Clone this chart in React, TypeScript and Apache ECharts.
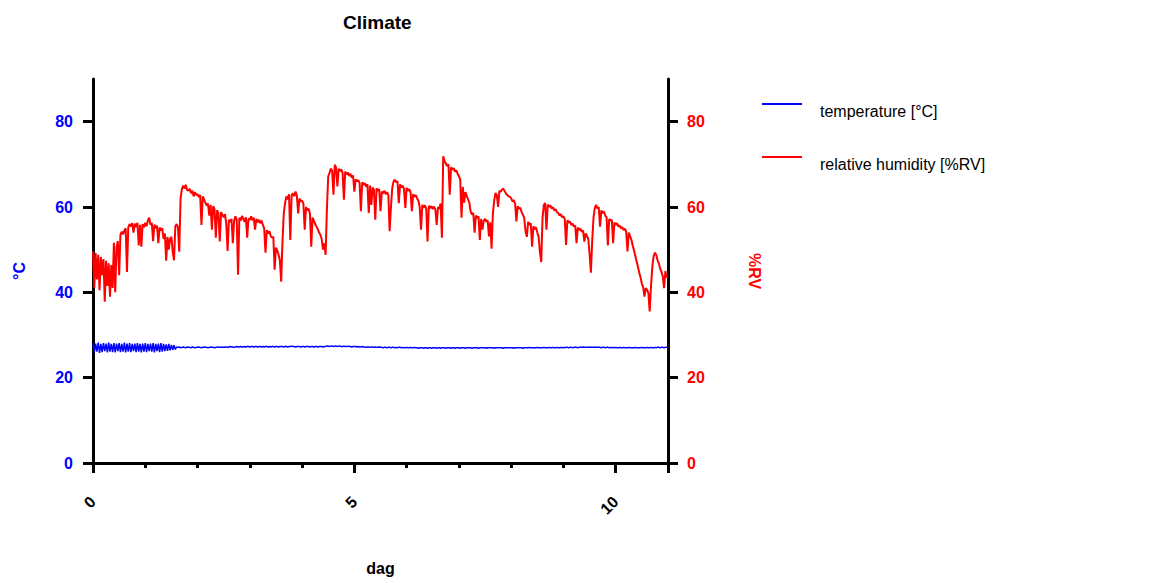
import React, { useEffect, useRef } from "react";
import * as echarts from "echarts";

// Sampling interval of the logger, in days
const sampleStep = 0.025;

// Relative humidity [%RV], 40 samples per day
const rhDay0 = [49.6, 41.0, 49.2, 43.0, 48.8, 40.5, 48.3, 44.0, 47.8, 37.8, 47.4, 41.5, 46.8, 39.0, 46.4, 41.0, 51.6, 40.0, 50.5, 52.0, 44.0, 53.5, 54.2, 53.6, 54.5, 55.0, 44.8, 55.2, 56.0, 55.4, 56.2, 54.0, 56.1, 55.3, 56.3, 51.0, 55.8, 50.7, 56.0, 55.2];
const rhDay1 = [56.3, 55.5, 56.8, 57.5, 55.8, 56.3, 52.0, 55.9, 55.0, 55.6, 51.5, 55.2, 54.5, 55.0, 52.5, 53.8, 47.4, 53.0, 50.0, 52.6, 53.0, 49.5, 47.5, 55.5, 56.0, 55.2, 49.5, 62.0, 64.2, 65.0, 64.3, 65.2, 64.0, 63.8, 64.3, 63.2, 63.8, 62.5, 63.5, 62.8];
const rhDay2 = [63.0, 62.3, 62.8, 55.8, 62.5, 61.8, 61.0, 60.3, 60.8, 58.0, 60.5, 54.7, 60.2, 59.5, 52.8, 59.3, 58.5, 51.9, 58.8, 58.2, 57.6, 58.3, 56.0, 49.7, 57.0, 56.5, 57.2, 51.5, 56.8, 57.8, 57.0, 44.1, 57.5, 56.8, 57.9, 57.2, 56.5, 57.6, 52.8, 57.3];
const rhDay3 = [57.0, 57.8, 56.9, 57.5, 54.7, 57.2, 56.4, 57.0, 56.2, 56.8, 55.8, 55.0, 49.3, 54.6, 53.8, 54.3, 53.2, 52.8, 53.0, 45.3, 50.5, 49.8, 48.8, 47.5, 42.5, 52.0, 58.5, 61.0, 62.5, 61.8, 63.0, 52.3, 62.8, 63.2, 62.5, 63.6, 62.6, 58.5, 62.0, 61.3];
const rhDay4 = [61.5, 60.8, 54.7, 60.0, 59.2, 59.6, 58.5, 50.7, 57.5, 56.8, 56.0, 55.4, 54.8, 54.0, 53.5, 52.5, 50.0, 51.5, 48.8, 59.6, 67.2, 68.0, 69.0, 68.5, 62.9, 69.9, 69.2, 64.8, 69.0, 68.4, 68.8, 68.0, 61.7, 68.3, 67.6, 68.1, 67.3, 67.8, 66.9, 67.4];
const rhDay5 = [63.6, 66.5, 66.0, 66.3, 65.6, 59.0, 65.8, 65.2, 65.6, 64.8, 65.3, 58.6, 65.0, 60.5, 64.6, 64.0, 57.0, 64.4, 63.8, 64.2, 59.0, 63.6, 63.2, 63.8, 63.0, 63.5, 62.8, 54.3, 60.0, 64.5, 66.0, 66.4, 65.8, 66.0, 60.9, 65.3, 64.6, 65.0, 64.2, 59.8];
const rhDay6 = [64.5, 63.8, 64.2, 63.5, 59.0, 63.0, 62.4, 62.8, 62.0, 61.5, 60.0, 54.7, 60.5, 59.8, 60.4, 59.6, 51.9, 60.3, 59.7, 60.2, 59.5, 60.1, 59.4, 55.8, 60.0, 59.6, 60.8, 52.8, 71.9, 70.8, 70.2, 69.6, 70.0, 62.9, 69.3, 68.8, 69.1, 68.3, 68.6, 67.8];
const rhDay7 = [67.2, 66.5, 57.5, 64.7, 61.0, 63.5, 62.6, 61.8, 61.0, 58.9, 58.2, 58.6, 54.0, 58.0, 57.4, 57.8, 52.3, 57.2, 54.7, 56.8, 57.2, 56.5, 56.9, 53.1, 56.4, 50.2, 58.5, 61.5, 63.3, 62.8, 60.0, 63.8, 63.6, 64.1, 64.3, 63.7, 63.2, 62.8, 62.5, 62.4];
const rhDay8 = [62.0, 61.3, 61.6, 60.8, 56.6, 60.2, 59.6, 59.8, 58.8, 58.2, 57.4, 54.3, 53.0, 56.5, 55.8, 56.2, 50.7, 55.5, 54.8, 55.2, 54.0, 53.0, 49.5, 47.1, 57.5, 60.5, 60.9, 54.7, 60.6, 60.0, 60.4, 59.6, 60.0, 59.2, 59.5, 58.8, 58.6, 58.0, 58.3, 57.6];
const rhDay9 = [57.8, 57.2, 51.1, 56.9, 56.3, 56.6, 55.8, 56.1, 55.4, 55.7, 51.5, 55.2, 54.6, 54.9, 54.2, 54.5, 51.9, 53.8, 53.2, 52.5, 49.0, 44.6, 52.0, 57.5, 59.8, 60.5, 59.6, 60.0, 55.4, 59.2, 58.6, 58.9, 58.0, 57.6, 51.0, 57.2, 56.8, 57.0, 51.5, 56.4];
const rhDay10 = [55.8, 56.2, 55.4, 55.7, 55.0, 55.3, 54.6, 54.9, 54.2, 49.6, 54.0, 53.2, 52.3, 51.0, 49.8, 48.5, 47.2, 46.0, 44.6, 43.5, 42.0, 41.2, 39.0, 41.0, 40.6, 39.8, 35.5, 41.5, 46.0, 48.5, 49.3, 48.8, 47.5, 46.8, 45.6, 44.8, 43.8, 41.0, 45.0, 43.6];
const rhEnd = [43.4];

// Temperature [°C], 40 samples per day
const tDay0 = [28.1, 25.9, 28.0, 26.1, 28.2, 25.8, 27.9, 26.0, 28.1, 26.2, 28.0, 25.9, 28.2, 26.1, 27.9, 26.0, 28.1, 25.9, 28.0, 26.2, 28.1, 26.0, 27.9, 26.1, 28.2, 25.9, 28.0, 26.1, 28.1, 26.0, 27.9, 26.2, 28.0, 26.0, 28.1, 26.1, 27.9, 25.9, 28.0, 26.1];
const tDay1 = [28.1, 26.0, 27.9, 26.2, 28.0, 26.1, 28.1, 25.9, 27.9, 26.2, 28.0, 26.0, 28.1, 26.1, 27.9, 26.2, 27.8, 26.3, 27.9, 26.4, 27.7, 26.5, 27.6, 26.6, 27.2, 27.1, 27.2, 27.0, 27.1, 27.2, 27.1, 27.0, 27.2, 27.1, 27.1, 27.0, 27.2, 27.1, 27.0, 27.1];
const tDay2 = [27.1, 27.2, 27.1, 27.0, 27.1, 27.2, 27.1, 27.1, 27.0, 27.1, 27.2, 27.1, 27.1, 27.0, 27.1, 27.2, 27.2, 27.1, 27.1, 27.2, 27.1, 27.2, 27.2, 27.1, 27.2, 27.3, 27.2, 27.2, 27.1, 27.2, 27.3, 27.2, 27.2, 27.3, 27.2, 27.2, 27.3, 27.2, 27.3, 27.3];
const tDay3 = [27.2, 27.3, 27.3, 27.2, 27.3, 27.3, 27.2, 27.3, 27.3, 27.2, 27.3, 27.2, 27.3, 27.3, 27.2, 27.3, 27.2, 27.3, 27.3, 27.2, 27.3, 27.3, 27.2, 27.3, 27.3, 27.3, 27.2, 27.3, 27.3, 27.2, 27.3, 27.3, 27.4, 27.3, 27.3, 27.2, 27.3, 27.3, 27.3, 27.2];
const tDay4 = [27.3, 27.3, 27.2, 27.3, 27.3, 27.3, 27.2, 27.3, 27.3, 27.2, 27.3, 27.3, 27.2, 27.3, 27.3, 27.3, 27.2, 27.3, 27.3, 27.4, 27.4, 27.3, 27.4, 27.4, 27.3, 27.4, 27.4, 27.3, 27.4, 27.4, 27.3, 27.3, 27.4, 27.3, 27.3, 27.4, 27.3, 27.3, 27.2, 27.3];
const tDay5 = [27.3, 27.3, 27.2, 27.3, 27.2, 27.2, 27.3, 27.2, 27.2, 27.1, 27.2, 27.2, 27.1, 27.2, 27.2, 27.1, 27.2, 27.1, 27.1, 27.2, 27.1, 27.1, 27.0, 27.1, 27.1, 27.0, 27.1, 27.1, 27.0, 27.1, 27.1, 27.0, 27.1, 27.0, 27.1, 27.1, 27.0, 27.1, 27.0, 27.0];
const tDay6 = [27.1, 27.0, 27.0, 27.1, 27.0, 27.0, 27.1, 27.0, 27.0, 26.9, 27.0, 27.0, 27.0, 26.9, 27.0, 27.0, 26.9, 27.0, 27.0, 26.9, 27.0, 27.0, 27.0, 26.9, 27.0, 27.0, 26.9, 27.0, 27.0, 27.0, 26.9, 27.0, 27.0, 27.0, 26.9, 27.0, 27.0, 26.9, 27.0, 27.0];
const tDay7 = [27.0, 26.9, 27.0, 27.0, 27.0, 26.9, 27.0, 27.0, 27.0, 27.0, 26.9, 27.0, 27.0, 27.0, 27.0, 26.9, 27.0, 27.0, 27.0, 27.0, 27.0, 26.9, 27.0, 27.0, 27.0, 27.0, 27.0, 26.9, 27.0, 27.0, 27.0, 27.0, 27.0, 27.0, 26.9, 27.0, 27.0, 27.0, 27.0, 27.0];
const tDay8 = [27.0, 27.0, 26.9, 27.0, 27.0, 27.0, 27.0, 27.0, 27.0, 26.9, 27.0, 27.0, 27.0, 27.0, 27.1, 27.0, 27.0, 27.0, 27.0, 27.0, 27.1, 27.0, 27.0, 27.0, 27.0, 27.1, 27.0, 27.0, 27.0, 27.1, 27.0, 27.0, 27.1, 27.0, 27.0, 27.1, 27.0, 27.0, 27.1, 27.0];
const tDay9 = [27.1, 27.0, 27.1, 27.1, 27.0, 27.1, 27.1, 27.0, 27.1, 27.1, 27.1, 27.0, 27.1, 27.1, 27.1, 27.2, 27.1, 27.1, 27.1, 27.1, 27.2, 27.1, 27.1, 27.1, 27.2, 27.1, 27.1, 27.1, 27.1, 27.0, 27.1, 27.1, 27.0, 27.1, 27.1, 27.0, 27.1, 27.0, 27.1, 27.0];
const tDay10 = [27.1, 27.0, 27.0, 27.1, 27.0, 27.0, 27.1, 27.0, 27.0, 27.0, 27.1, 27.0, 27.0, 27.0, 27.0, 27.1, 27.0, 27.0, 27.0, 27.0, 27.1, 27.0, 27.0, 27.0, 27.1, 27.0, 27.0, 27.1, 27.0, 27.0, 27.1, 27.0, 27.1, 27.1, 27.0, 27.1, 27.1, 27.0, 27.1, 27.1];
const tEnd = [27.1];

// Axis ticks and labels
const xMajorTicks = [0, 5, 10, 11];
const xLabels = [0, 5, 10];
const yTicks = [0, 20, 40, 60, 80];

const seriesNames = ["temperature [°C]", "relative humidity [%RV]"];

const humidity = [
  ...rhDay0, ...rhDay1, ...rhDay2, ...rhDay3, ...rhDay4, ...rhDay5,
  ...rhDay6, ...rhDay7, ...rhDay8, ...rhDay9, ...rhDay10, ...rhEnd,
];
const temperature = [
  ...tDay0, ...tDay1, ...tDay2, ...tDay3, ...tDay4, ...tDay5,
  ...tDay6, ...tDay7, ...tDay8, ...tDay9, ...tDay10, ...tEnd,
];

const toPairs = (vals: number[]) =>
  vals.map((v, i) => [Math.round(i * sampleStep * 1000) / 1000, v]);

const FONT = "'Liberation Sans', Arial, sans-serif";

export default function App() {
  const ref = useRef<HTMLDivElement>(null);

  useEffect(() => {
    if (!ref.current) return;
    const chart = echarts.init(ref.current, undefined, { renderer: "svg" });
    const axisLine = { show: true, onZero: false, lineStyle: { color: "#000", width: 3 } };
    chart.setOption({
      animation: false,
      backgroundColor: "#fff",
      title: {
        text: "Climate",
        left: 338,
        top: 8,
        textStyle: { fontFamily: FONT, fontWeight: "bold", fontSize: 19, color: "#000" },
      },
      legend: {
        orient: "vertical",
        left: 757,
        top: 98,
        itemWidth: 40,
        itemHeight: 2,
        itemGap: 37,
        icon: "rect",
        data: seriesNames,
        formatter: "{a|{name}}",
        textStyle: {
          fontFamily: FONT,
          fontSize: 16,
          color: "#000",
          rich: {
            a: {
              fontFamily: FONT,
              fontSize: 16,
              color: "#000",
              padding: [14, 0, 0, 13],
            },
          },
        },
      },
      grid: { left: 93, right: 485, top: 79, bottom: 120, containLabel: false },
      xAxis: [
        {
          type: "value",
          min: 0,
          max: 11,
          interval: 1,
          position: "bottom",
          axisLine,
          axisTick: { show: true, length: 5, lineStyle: { color: "#000", width: 3 } },
          axisLabel: { show: false },
          splitLine: { show: false },
          name: "dag",
          nameLocation: "middle",
          nameGap: 97,
          nameTextStyle: { fontFamily: FONT, fontWeight: "bold", fontSize: 16, color: "#000" },
        },
        {
          type: "value",
          min: 0,
          max: 11,
          position: "bottom",
          axisLine: { show: false, onZero: false },
          axisTick: {
            show: true,
            length: 10,
            customValues: xMajorTicks,
            lineStyle: { color: "#000", width: 3 },
          },
          axisLabel: {
            customValues: xLabels,
            rotate: 45,
            align: "right",
            verticalAlign: "middle",
            margin: 36,
            color: "#000",
            fontFamily: FONT,
            fontWeight: "bold",
            fontSize: 16,
          },
          splitLine: { show: false },
        },
      ],
      yAxis: [
        {
          type: "value",
          min: 0,
          max: 90,
          position: "left",
          axisLine,
          axisTick: {
            show: true,
            length: 10,
            customValues: yTicks,
            lineStyle: { color: "#000", width: 3 },
          },
          axisLabel: {
            customValues: yTicks,
            margin: 20,
            color: "#0000ff",
            fontFamily: FONT,
            fontWeight: "bold",
            fontSize: 16,
          },
          splitLine: { show: false },
          name: "°C",
          nameLocation: "middle",
          nameGap: 66,
          nameTextStyle: { fontFamily: FONT, fontWeight: "bold", fontSize: 16, color: "#0000ff" },
        },
        {
          type: "value",
          min: 0,
          max: 90,
          position: "right",
          axisLine,
          axisTick: {
            show: true,
            length: 10,
            customValues: yTicks,
            lineStyle: { color: "#000", width: 3 },
          },
          axisLabel: {
            customValues: yTicks,
            margin: 19,
            color: "#ff0000",
            fontFamily: FONT,
            fontWeight: "bold",
            fontSize: 16,
          },
          splitLine: { show: false },
          name: "%RV",
          nameLocation: "middle",
          nameRotate: -90,
          nameGap: 78,
          nameTextStyle: { fontFamily: FONT, fontWeight: "bold", fontSize: 16, color: "#ff0000" },
        },
      ],
      series: [
        {
          name: seriesNames[0],
          type: "line",
          xAxisIndex: 0,
          yAxisIndex: 0,
          showSymbol: false,
          symbol: "none",
          color: "#0000ff",
          lineStyle: { color: "#0000ff", width: 1.5 },
          data: toPairs(temperature),
        },
        {
          name: seriesNames[1],
          type: "line",
          xAxisIndex: 0,
          yAxisIndex: 1,
          showSymbol: false,
          symbol: "none",
          color: "#ff0000",
          lineStyle: { color: "#ff0000", width: 2 },
          data: toPairs(humidity),
        },
      ],
    });
    return () => chart.dispose();
  }, []);

  return <div ref={ref} style={{ width: 1153, height: 583, position: "absolute", left: 0, top: 0 }} />;
}
